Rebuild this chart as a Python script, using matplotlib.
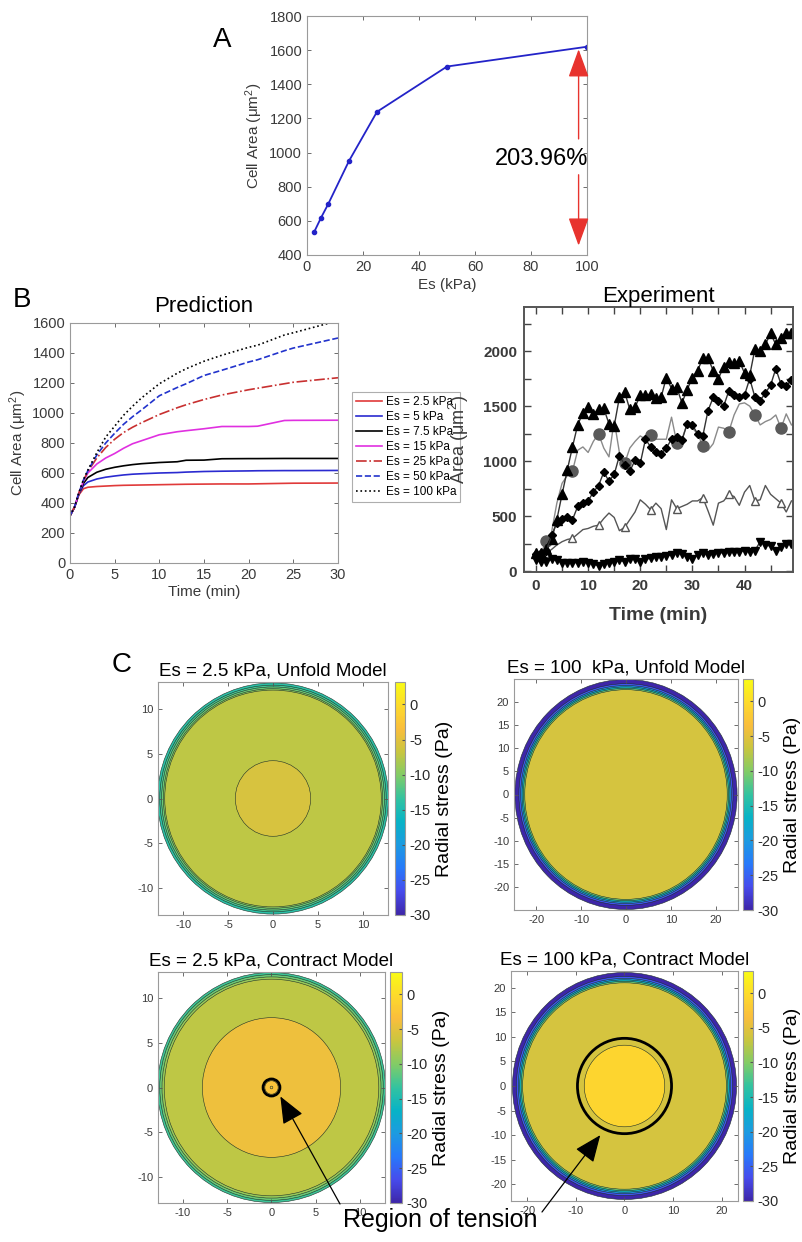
import numpy as np
import matplotlib.pyplot as plt
from matplotlib.colors import LinearSegmentedColormap, Normalize
from matplotlib.patches import Circle
from matplotlib.cm import ScalarMappable

plt.rcParams['font.family'] = ['Liberation Sans', 'DejaVu Sans']
plt.rcParams['mathtext.fontset'] = 'custom'
plt.rcParams['mathtext.rm'] = 'Liberation Sans'
plt.rcParams['mathtext.it'] = 'Liberation Sans:italic'
plt.rcParams['axes.unicode_minus'] = False

W, H = 803, 1242

# ---- panel A: steady state area vs substrate stiffness
es_kpa = [2.5, 5, 7.5, 15, 25, 50, 100]
area_ss = [533, 618, 696, 951, 1239, 1504, 1620]

# ---- panel B: prediction (time courses)
t_pred = [0, 0.5, 1, 1.5, 2, 3, 4, 5, 6, 7, 8, 10, 12, 13, 15, 17, 20, 21, 24, 25, 30]
pred_2_5 = [315, 370, 455, 495, 505, 510, 513, 516, 518, 519, 520, 522, 524, 525, 526, 527, 527, 528, 531, 532, 533]
pred_5 = [315, 370, 460, 515, 540, 560, 572, 580, 587, 592, 595, 600, 603, 606, 610, 612, 614, 615, 616, 616, 617]
pred_7_5 = [315, 370, 462, 530, 570, 605, 625, 638, 648, 656, 662, 670, 675, 685, 686, 695, 696, 696, 697, 697, 697]
pred_15 = [315, 372, 465, 545, 600, 660, 700, 730, 765, 795, 815, 855, 875, 882, 895, 910, 910, 912, 950, 951, 952]
pred_25 = [315, 372, 468, 550, 610, 700, 770, 825, 870, 905, 935, 990, 1035, 1055, 1090, 1120, 1155, 1165, 1195, 1205, 1235]
pred_50 = [315, 372, 468, 552, 615, 720, 800, 865, 925, 975, 1020, 1115, 1170, 1195, 1250, 1285, 1340, 1355, 1415, 1433, 1500]
pred_100 = [315, 372, 470, 555, 620, 735, 840, 912, 985, 1045, 1100, 1195, 1265, 1295, 1345, 1385, 1438, 1452, 1520, 1535, 1615]
pred_labels = ['Es = 2.5 kPa', 'Es = 5 kPa', 'Es = 7.5 kPa', 'Es = 15 kPa',
               'Es = 25 kPa', 'Es = 50 kPa', 'Es = 100 kPa']

# ---- panel B: experiment (1 sample / min)
t_exp = list(range(50))
exp_tri = [170, 165, 200, 290, 470, 700, 920, 1130, 1330, 1440, 1490, 1430, 1470, 1480, 1340,
           1320, 1580, 1630, 1470, 1490, 1600, 1600, 1610, 1570, 1580, 1760, 1660, 1670, 1530, 1650,
           1760, 1820, 1940, 1940, 1820, 1750, 1860, 1900, 1890, 1910, 1800, 1780, 2020, 2000, 2060,
           2160, 2060, 2120, 2160, 2160]
exp_dia = [160, 170, 190, 330, 440, 480, 490, 470, 590, 620, 640, 720, 780, 900, 820,
           880, 1050, 970, 910, 1010, 980, 1200, 1130, 1080, 1070, 1120, 1200, 1220, 1190, 1340,
           1330, 1250, 1230, 1460, 1580, 1550, 1500, 1640, 1600, 1580, 1600, 1750, 1580, 1550, 1620,
           1690, 1840, 1700, 1680, 1740]
exp_circ = [150, 170, 280, 360, 620, 800, 870, 910, 1100, 1130, 1080, 1180, 1250, 1120, 1040,
            1370, 1080, 980, 1120, 1180, 1230, 1200, 1240, 1200, 1200, 1200, 1400, 1170, 1200, 1340,
            1300, 1250, 1140, 1100, 1160, 1310, 1300, 1270, 1420, 1520, 1530, 1500, 1420, 1330, 1360,
            1380, 1420, 1300, 1430, 1330]
exp_open = [150, 160, 170, 200, 240, 270, 290, 300, 340, 380, 390, 410, 420, 480, 530,
            490, 370, 400, 470, 540, 650, 610, 560, 620, 570, 380, 650, 570, 590, 610,
            640, 640, 670, 550, 420, 620, 640, 700, 680, 600, 720, 780, 640, 650, 780,
            700, 660, 620, 540, 640]
exp_down = [100, 90, 90, 110, 100, 80, 80, 80, 80, 85, 80, 70, 50, 70, 80,
            90, 100, 90, 110, 110, 90, 110, 120, 130, 130, 140, 150, 170, 160, 130,
            110, 150, 170, 150, 160, 170, 170, 180, 180, 180, 190, 180, 190, 270, 240,
            230, 190, 220, 250, 250]

# ---- panel C: radial stress rings (outer radius -> stress, Pa)
tl_r = [12.85, 12.6, 12.4, 12.2, 12.05, 4.2]
tl_s = [-14, -12.5, -11, -9.5, -7.3, -5.8]
tr_r = [24.8, 23.9, 23.5, 23.2, 22.9, 22.6]
tr_s = [-30, -26, -21, -16, -11, -6.0]
bl_r = [12.85, 12.6, 12.35, 12.1, 7.8, 0.75, 0.15]
bl_s = [-13, -11, -9, -7.3, -4.2, -3.0, -2.0]
br_r = [23.1, 22.3, 21.9, 21.6, 21.3, 21.0, 8.3]
br_s = [-30, -26, -21, -16, -11, -6.0, -0.8]
stress_ticks = [0, -5, -10, -15, -20, -25, -30]

parula_rgb = [(0.2422, 0.1504, 0.6603), (0.2760, 0.2947, 0.9270), (0.1540, 0.4767, 0.9808),
              (0.1096, 0.6053, 0.8801), (0.0296, 0.7010, 0.7767), (0.1986, 0.7636, 0.6271),
              (0.5068, 0.7990, 0.4032), (0.7848, 0.7753, 0.2486), (0.9779, 0.7439, 0.2370),
              (0.9931, 0.8564, 0.1708), (0.9769, 0.9839, 0.0805)]
parula = LinearSegmentedColormap.from_list('parula', parula_rgb)
norm = Normalize(vmin=-30, vmax=3.2)


def rect(l, t, r, b):
    return [l / W, 1 - b / H, (r - l) / W, (b - t) / H]


def matlab_axes(ax, labelsize=10):
    for s in ax.spines.values():
        s.set_color('#9a9a9a')
        s.set_linewidth(0.8)
    ax.tick_params(direction='in', top=True, right=True, length=3, width=0.6,
                   color='#555555', labelsize=labelsize, labelcolor='#3a3a3a')


fig = plt.figure(figsize=(W / 100, H / 100), dpi=100)

# ------------------------------------------------------------ A
axA = fig.add_axes(rect(307, 16, 587, 255))
axA.plot(es_kpa, area_ss, color='#2323c8', lw=1.3, marker='o', ms=3)
axA.set_xlim(0, 100)
axA.set_ylim(400, 1800)
axA.set_xticks(range(0, 101, 20))
axA.set_yticks(range(400, 1801, 200))
matlab_axes(axA, 10.5)
axA.set_xlabel('Es (kPa)', fontsize=11, color='#3a3a3a', labelpad=3)
axA.set_ylabel('Cell Area (μm$^2$)', fontsize=11, color='#3a3a3a', labelpad=3)
arr = dict(arrowstyle='-|>,head_length=1.1,head_width=0.4', color='#e8332e',
           lw=1.0, mutation_scale=16, shrinkA=0, shrinkB=0)
axA.annotate('', xy=(97, 1605), xytext=(97, 1080), arrowprops=arr)
axA.annotate('', xy=(97, 455), xytext=(97, 870), arrowprops=arr)
axA.text(100.5, 960, '203.96%', ha='right', va='center', fontsize=17)
fig.text(222 / W, 1 - 40 / H, 'A', fontsize=20, ha='center', va='center')

# ------------------------------------------------------------ B prediction
axP = fig.add_axes(rect(70, 323, 338, 563))
styles = [('#e03a3a', '-'), ('#2a2ad0', '-'), ('black', '-'), ('#e030e0', '-'),
          ('#c83030', '-.'), ('#2233cc', '--'), ('black', ':')]
series = [pred_2_5, pred_5, pred_7_5, pred_15, pred_25, pred_50, pred_100]
for ys, (c, ls), lab in zip(series, styles, pred_labels):
    axP.plot(t_pred, ys, color=c, ls=ls, lw=1.2, label=lab)
axP.set_xlim(0, 30)
axP.set_ylim(0, 1600)
axP.set_xticks(range(0, 31, 5))
axP.set_yticks(range(0, 1601, 200))
matlab_axes(axP, 10.5)
axP.set_xlabel('Time (min)', fontsize=11, color='#3a3a3a', labelpad=2)
axP.set_ylabel('Cell Area (μm$^2$)', fontsize=11, color='#3a3a3a', labelpad=2)
axP.set_title('Prediction', fontsize=16, pad=8)
leg = axP.legend(loc='upper left', bbox_to_anchor=(352 / W, 1 - 392 / H),
                 bbox_transform=fig.transFigure, fontsize=8.5, frameon=True,
                 fancybox=False, handlelength=2.2, handletextpad=0.3,
                 borderpad=0.35, labelspacing=0.25, borderaxespad=0)
leg.get_frame().set_edgecolor('#9a9a9a')
leg.get_frame().set_linewidth(0.8)
fig.text(22 / W, 1 - 300 / H, 'B', fontsize=20, ha='center', va='center')

# ------------------------------------------------------------ B experiment
axE = fig.add_axes(rect(524, 307, 793, 572))
axE.plot(t_exp, exp_circ, color='#8a8a8a', lw=1.0, marker='o', ms=8,
         mfc='#5a5a5a', mec='#5a5a5a', markevery=(2, 5))
axE.plot(t_exp, exp_open, color='#555555', lw=1.0, marker='^', ms=6,
         mfc='white', mec='#555555', markevery=(2, 5))
axE.plot(t_exp, exp_tri, color='#333333', lw=1.0, marker='^', ms=6.5,
         mfc='black', mec='black')
axE.plot(t_exp, exp_dia, color='#333333', lw=1.0, marker='D', ms=4.5,
         mfc='black', mec='black')
axE.plot(t_exp, exp_down, color='#333333', lw=1.0, marker='v', ms=6,
         mfc='black', mec='black')
axE.set_xlim(-2.3, 49.3)
axE.set_ylim(-5, 2400)
axE.set_xticks(range(0, 41, 10))
axE.set_xticks(range(5, 50, 10), minor=True)
axE.set_yticks(range(0, 2001, 500))
axE.set_yticks(range(250, 2300, 500), minor=True)
for s in axE.spines.values():
    s.set_color('#555555')
    s.set_linewidth(1.4)
axE.tick_params(which='both', direction='in', top=True, right=True, length=5,
                width=1.0, color='#444444', labelsize=11, labelcolor='#3a3a3a', pad=5)
for lab in axE.get_xticklabels() + axE.get_yticklabels():
    lab.set_fontweight('bold')
axE.set_xlabel('Time (min)', fontsize=14, color='#3a3a3a', fontweight='bold', labelpad=10)
axE.set_ylabel('Area (μm$^2$)', fontsize=13, color='#3a3a3a', labelpad=9)
axE.set_title('Experiment', fontsize=16, pad=3)

# ------------------------------------------------------------ C
panels = [
    (rect(158, 682, 388, 915), rect(395, 682, 405, 915), 12.8, 12.95, tl_r, tl_s,
     'Es = 2.5 kPa, Unfold Model', [-10, -5, 0, 5, 10], None),
    (rect(514, 679, 738, 910), rect(743, 679, 753, 910), 25.0, 24.9, tr_r, tr_s,
     'Es = 100  kPa, Unfold Model', [-20, -15, -10, -5, 0, 5, 10, 15, 20], None),
    (rect(158, 972, 385, 1203), rect(390, 972, 402, 1203), 12.8, 12.9, bl_r, bl_s,
     'Es = 2.5 kPa, Contract Model', [-10, -5, 0, 5, 10], 0.95),
    (rect(511, 971, 738, 1201), rect(743, 971, 753, 1201), 23.4, 23.4, br_r, br_s,
     'Es = 100 kPa, Contract Model', [-20, -15, -10, -5, 0, 5, 10, 15, 20], 9.7),
]
c_axes = []
for pos, cpos, xl, yl, radii, stress, title, yt, tension_r in panels:
    ax = fig.add_axes(pos)
    for r, s in zip(radii, stress):
        ax.add_patch(Circle((0, 0), r, facecolor=parula(norm(s)),
                            edgecolor='#1f3028', lw=0.4))
    if tension_r is not None:
        ax.add_patch(Circle((0, 0), tension_r, fill=False, edgecolor='black', lw=2.0))
    ax.set_xlim(-xl, xl)
    ax.set_ylim(-yl, yl)
    ax.set_yticks(yt)
    ax.set_xticks([v for v in yt if v % 10 == 0] if xl > 20 else yt)
    matlab_axes(ax, 8)
    ax.set_title(title, fontsize=13.5, pad=5)
    cax = fig.add_axes(cpos)
    cb = fig.colorbar(ScalarMappable(norm=norm, cmap=parula), cax=cax)
    cb.set_ticks(stress_ticks)
    cb.ax.tick_params(direction='in', length=2, labelsize=10.5, labelcolor='#2a2a2a',
                      color='#555555', pad=3)
    cb.outline.set_edgecolor('#9a9a9a')
    cb.set_label('Radial stress (Pa)', fontsize=14, labelpad=4)
    c_axes.append(ax)
fig.text(122 / W, 1 - 665 / H, 'C', fontsize=20, ha='center', va='center')

# region of tension callout
fig.text(440 / W, 1 - 1220 / H, 'Region of tension', fontsize=18, ha='center', va='center')
harr = dict(arrowstyle='-|>,head_length=1.2,head_width=0.5', color='black',
            lw=0.9, mutation_scale=14, shrinkA=0, shrinkB=0)
c_axes[2].annotate('', xy=(1.0, -1.0), xytext=(340 / W, 1 - 1204 / H),
                   textcoords='figure fraction', arrowprops=harr, annotation_clip=False)
c_axes[3].annotate('', xy=(-5.0, -10.0), xytext=(542 / W, 1 - 1212 / H),
                   textcoords='figure fraction', arrowprops=harr, annotation_clip=False)

fig.savefig('out.png', dpi=100)
